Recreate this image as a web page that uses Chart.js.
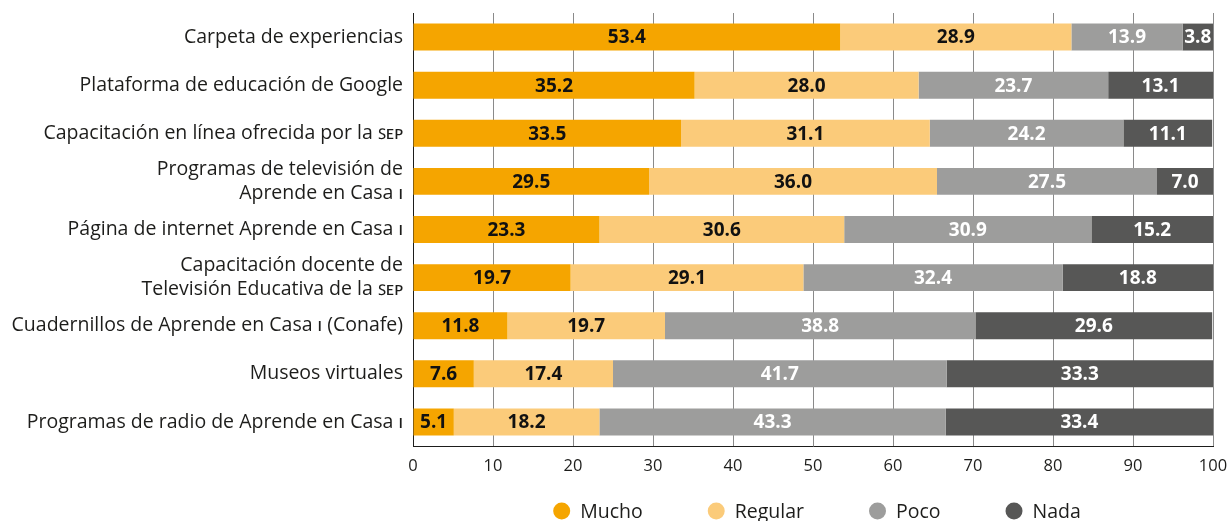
<!DOCTYPE html>
<html lang="es">
<head>
    <meta charset="UTF-8">
    <title>Recursos de Aprende en Casa</title>
    <script src="https://cdn.jsdelivr.net/npm/chart.js"></script>
    <style>
        body { margin: 0; padding: 0; background: #ffffff; }
        #chart { display: block; }
    </style>
</head>
<body>
    <canvas id="chart" width="1227" height="521"></canvas>

    <script>
        const categories = [
            'Carpeta de experiencias',
            'Plataforma de educación de Google',
            'Capacitación en línea ofrecida por la ꜱᴇᴘ',
            ['Programas de televisión de', 'Aprende en Casa ɪ'],
            'Página de internet Aprende en Casa ɪ',
            ['Capacitación docente de', 'Televisión Educativa de la ꜱᴇᴘ'],
            'Cuadernillos de Aprende en Casa ɪ (Conafe)',
            'Museos virtuales',
            'Programas de radio de Aprende en Casa ɪ'
        ];
        const mucho   = [53.4, 35.2, 33.5, 29.5, 23.3, 19.7, 11.8, 7.6, 5.1];
        const regular = [28.9, 28.0, 31.1, 36.0, 30.6, 29.1, 19.7, 17.4, 18.2];
        const poco    = [13.9, 23.7, 24.2, 27.5, 30.9, 32.4, 38.8, 41.7, 43.3];
        const nada    = [3.8, 13.1, 11.1, 7.0, 15.2, 18.8, 29.6, 33.3, 33.4];
        const xTicks  = [0, 10, 20, 30, 40, 50, 60, 70, 80, 90, 100];

        const fontFamily = '"Open Sans", Lato, sans-serif';
        const textColor = '#1d1d1b';

        // etiquetas de valor centradas en cada segmento
        const barLabels = {
            id: 'barLabels',
            afterDatasetsDraw(chart) {
                const ctx = chart.ctx;
                ctx.save();
                ctx.font = 'bold 19px ' + fontFamily;
                ctx.textAlign = 'center';
                ctx.textBaseline = 'middle';
                chart.data.datasets.forEach((ds, i) => {
                    const meta = chart.getDatasetMeta(i);
                    ctx.fillStyle = ds.labelColor;
                    meta.data.forEach((bar, j) => {
                        const x = (bar.x + bar.base) / 2;
                        ctx.fillText(ds.data[j].toFixed(1), x, bar.y + 1);
                    });
                });
                ctx.restore();
            }
        };

        // leyenda con círculos debajo del eje
        const bottomLegend = {
            id: 'bottomLegend',
            afterDraw(chart) {
                const ctx = chart.ctx;
                const area = chart.chartArea;
                const r = 8.5, gap = 10, spacing = 65;
                ctx.save();
                ctx.font = '19.5px ' + fontFamily;
                ctx.textBaseline = 'middle';
                const items = chart.data.datasets.map(ds => ({
                    text: ds.label,
                    color: ds.backgroundColor,
                    w: 2 * r + gap + ctx.measureText(ds.label).width
                }));
                const total = items.reduce((s, it) => s + it.w, 0) + spacing * (items.length - 1);
                let x = (area.left + area.right) / 2 - total / 2 + 4;
                const y = 511;
                items.forEach(it => {
                    ctx.fillStyle = it.color;
                    ctx.beginPath();
                    ctx.arc(x + r, y, r, 0, Math.PI * 2);
                    ctx.fill();
                    ctx.fillStyle = textColor;
                    ctx.fillText(it.text, x + 2 * r + gap, y + 1);
                    x += it.w + spacing;
                });
                ctx.restore();
            }
        };

        new Chart(document.getElementById('chart'), {
            type: 'bar',
            data: {
                labels: categories,
                datasets: [
                    { label: 'Mucho', data: mucho, backgroundColor: '#f5a500', labelColor: '#111111' },
                    { label: 'Regular', data: regular, backgroundColor: '#fbcb7a', labelColor: '#111111' },
                    { label: 'Poco', data: poco, backgroundColor: '#9d9d9c', labelColor: '#ffffff' },
                    { label: 'Nada', data: nada, backgroundColor: '#575756', labelColor: '#ffffff' }
                ]
            },
            options: {
                indexAxis: 'y',
                responsive: false,
                animation: false,
                layout: { padding: { top: 13, right: 14, left: 0, bottom: 39 } },
                datasets: {
                    bar: { barPercentage: 0.56, categoryPercentage: 1.0, borderWidth: 0 }
                },
                scales: {
                    x: {
                        stacked: true,
                        min: 0,
                        max: 100,
                        afterBuildTicks(axis) {
                            axis.ticks = xTicks.map(v => ({ value: v }));
                        },
                        afterFit(axis) {
                            axis.height = 36;
                            axis.paddingLeft = 0;
                            axis.paddingRight = 0;
                        },
                        grid: { color: '#8a8a8a', lineWidth: 1, drawTicks: false },
                        border: { color: '#1d1d1b', width: 1 },
                        ticks: {
                            padding: 10,
                            color: textColor,
                            font: { family: fontFamily, size: 16.5 }
                        }
                    },
                    y: {
                        stacked: true,
                        afterFit(axis) {
                            axis.width = 413;
                            axis.paddingTop = 0;
                            axis.paddingBottom = 0;
                        },
                        grid: { display: false, drawTicks: false },
                        border: { color: '#1d1d1b', width: 1 },
                        ticks: {
                            autoSkip: false,
                            padding: 10,
                            color: textColor,
                            font: { family: fontFamily, size: 19.5, lineHeight: 1.22 }
                        }
                    }
                },
                plugins: {
                    legend: { display: false },
                    tooltip: { enabled: false }
                }
            },
            plugins: [barLabels, bottomLegend]
        });
    </script>
</body>
</html>
